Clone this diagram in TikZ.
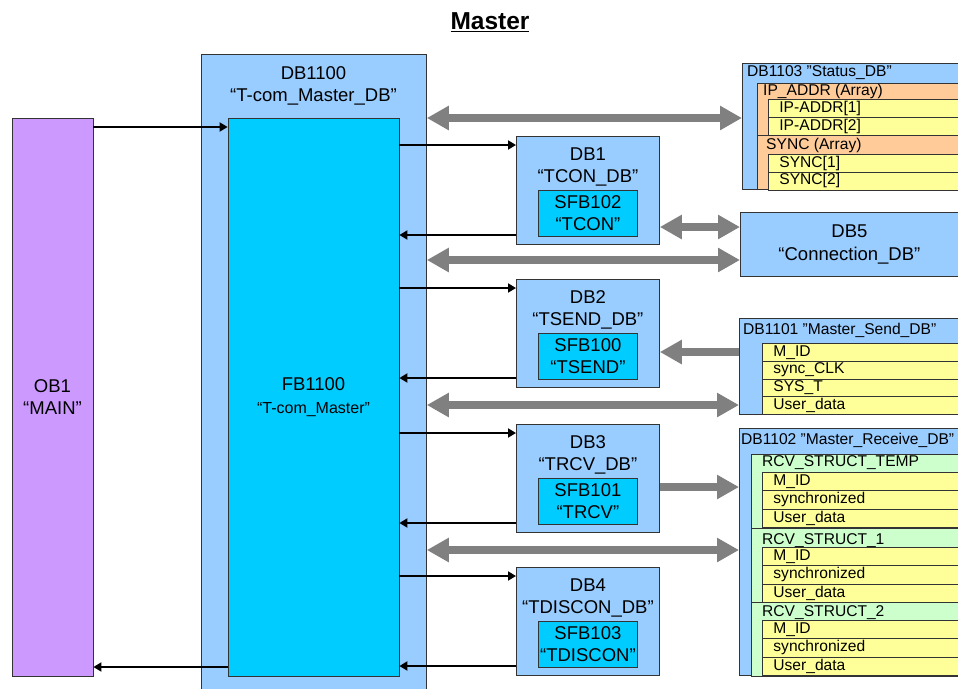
\documentclass[tikz,border=0pt]{standalone}
\usepackage{fontspec}
\setmainfont{Liberation Sans}
\usetikzlibrary{arrows.meta,positioning,calc}
\definecolor{dbblue}{HTML}{99CCFF}
\definecolor{fbcyan}{HTML}{00CCFF}
\definecolor{obpurple}{HTML}{CC99FF}
\definecolor{arrorange}{HTML}{FFCC99}
\definecolor{varyellow}{HTML}{FFFF99}
\definecolor{structgreen}{HTML}{CCFFCC}
\definecolor{pipegray}{HTML}{808080}
\begin{document}
\begin{tikzpicture}[x=1pt,y=-1pt,
    box/.style={draw=black!80,line width=0.8pt,inner sep=0pt},
    dbbox/.style={box,fill=dbblue},
    fbbox/.style={box,fill=fbcyan},
    big/.style={font=\fontsize{18.5}{22.5}\selectfont,align=center,inner sep=0pt},
    small/.style={font=\fontsize{15.6}{18}\selectfont},
    lbl/.style={small,anchor=west,inner sep=0pt},
    sig/.style={line width=1.8pt,>={Triangle[length=8pt,width=9pt]},->},
    pipe/.style={draw=pipegray,line width=8pt,>={Triangle[length=22pt,width=23pt]},->},
    pipes/.style={pipe,<->},
    row/.style={box,fill=varyellow,anchor=north west,small,minimum height=18pt,
      text width=178pt,inner xsep=11pt,text height=11pt,text depth=3.5pt,align=left},
  ]
  \fill[white] (0,0) rectangle (958,688);
  \useasboundingbox (0,0) rectangle (958,688);

  \node[font=\fontsize{24.5}{27}\selectfont\bfseries] (title) at (490,22) {\underline{Master}};

  % OB1 and the T-com master block
  \node[box,fill=obpurple,minimum width=81pt,minimum height=558pt,big] (ob1) at (52.5,397) {OB1\\“MAIN”};
  \node[dbbox,minimum width=225pt,minimum height=650pt,anchor=north west] (dbm) at (201,54) {};
  \node[big] (dbmtext) at (313.5,86) {DB1100\\“T-com\_Master\_DB”};
  \node[fbbox,minimum width=171pt,minimum height=558pt,big] (fb) at (313.5,397)
    {FB1100\\{\fontsize{16}{18}\selectfont “T-com\_Master”}};
  \draw[sig] (ob1.east |- 0,127) -- (fb.west |- 0,127);
  \draw[sig] (fb.west |- 0,667) -- (ob1.east |- 0,667);

  % instance DBs with their SFBs
  \foreach \i/\top/\dbname/\sfb/\sfbname in {1/136/TCON/102/TCON, 2/279/TSEND/100/TSEND,
      3/424/TRCV/101/TRCV, 4/567/TDISCON/103/TDISCON}
  {
    \node[dbbox,minimum width=143pt,minimum height=108pt,anchor=north west] (db\i) at (516,\top) {};
    \node[big] (dbtext\i) at ($(db\i.north)+(0,31)$) {DB\i\\“\dbname\_DB”};
    \node[fbbox,big,minimum width=99pt,minimum height=46pt] (sfb\i) at ($(db\i.north)+(0,77)$) {SFB\sfb\\“\sfbname”};
    \coordinate (in\i) at ($(db\i.north west)+(0,9)$);
    \coordinate (out\i) at ($(db\i.north west)+(0,99)$);
    \draw[sig] (fb.east |- in\i) -- (in\i);
    \draw[sig] (out\i) -- (fb.east |- out\i);
  }

  % DB1103 Status_DB
  \node[dbbox,minimum width=220pt,minimum height=126pt,anchor=north west] (status) at (742,63) {};
  \node[lbl] (statustext) at (747,73) {DB1103 "Status\_DB"};
  \node[box,fill=arrorange,minimum width=205pt,minimum height=52pt,anchor=north west] (ipgroup) at (757,83) {};
  \node[lbl] (iptext) at (763,91) {IP\_ADDR (Array)};
  \foreach \txt [count=\k] in {IP-ADDR[1],IP-ADDR[2]}
    \node[row] (ip\k) at (768,{99+18*(\k-1)}) {\txt};
  \node[box,fill=arrorange,minimum width=205pt,minimum height=54pt,anchor=north west] (syncgroup) at (757,135) {};
  \node[lbl] (synctext) at (766,145) {SYNC (Array)};
  \foreach \txt [count=\k] in {SYNC[1],SYNC[2]}
    \node[row] (sync\k) at (768,{154+17.5*(\k-1)}) {\txt};

  % DB5 Connection_DB
  \node[dbbox,big,minimum width=218pt,minimum height=64pt,anchor=north west] (db5) at (740,212)
    {DB5\\“Connection\_DB”};

  % DB1101 Master_Send_DB
  \node[dbbox,minimum width=223pt,minimum height=96pt,anchor=north west] (send) at (739,318) {};
  \node[lbl] (sendtext) at (743,330) {DB1101 "Master\_Send\_DB"};
  \foreach \txt [count=\k] in {M\_ID,sync\_CLK,SYS\_T,User\_data}
    \node[row] (send\k) at (762,{343+17.75*(\k-1)}) {\txt};

  % DB1102 Master_Receive_DB
  \node[dbbox,minimum width=223pt,minimum height=247pt,anchor=north west] (recv) at (739,428) {};
  \node[lbl] (recvtext) at (741,440) {DB1102 "Master\_Receive\_DB"};
  \foreach \g/\gtop/\gname/\gy/\rtop in {1/454/RCV\_STRUCT\_TEMP/463/472,
      2/528/RCV\_STRUCT\_1/541/547, 3/602/RCV\_STRUCT\_2/613/620}
  {
    \node[box,fill=structgreen,minimum width=211pt,minimum height=74pt,anchor=north west] (rcv\g) at (751,\gtop) {};
    \node[lbl] (rcvname\g) at (762,\gy) {\gname};
    \foreach \txt [count=\k] in {M\_ID,synchronized,User\_data}
      \node[row,minimum height=18.4pt] (rcv\g row\k) at (762,{\rtop+18.4*(\k-1)}) {\txt};
  }

  % data flows
  \draw[pipes] (dbm.east |- 0,118) -- (status.west |- 0,118);
  \draw[pipes] (db1.east |- 0,227) -- (db5.west |- 0,227);
  \draw[pipes] (dbm.east |- 0,260) -- (db5.west |- 0,260);
  \draw[pipe] (send.west |- 0,352) -- (db2.east |- 0,352);
  \draw[pipes] (dbm.east |- 0,405) -- (send.west |- 0,405);
  \draw[pipe] (db3.east |- 0,487) -- (recv.west |- 0,487);
  \draw[pipes] (dbm.east |- 0,550) -- (recv.west |- 0,550);
\end{tikzpicture}
\end{document}
